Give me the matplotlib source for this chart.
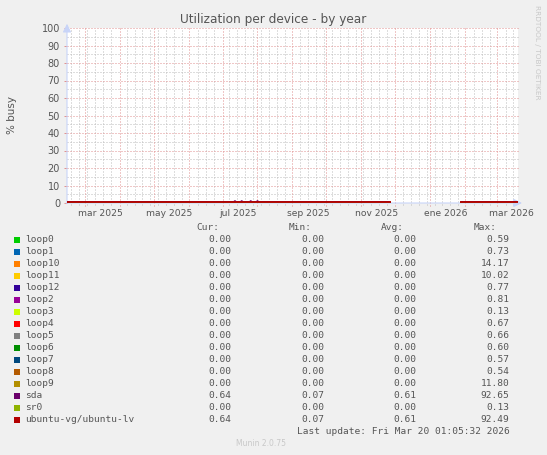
import numpy as np
import pandas as pd
import matplotlib
matplotlib.use("Agg")
import matplotlib.pyplot as plt

# legend / series data
names = ["loop0", "loop1", "loop10", "loop11", "loop12", "loop2", "loop3", "loop4",
         "loop5", "loop6", "loop7", "loop8", "loop9", "sda", "sr0", "ubuntu-vg/ubuntu-lv"]
colors = ["#00CC00", "#0066B3", "#FF8000", "#FFCC00", "#330099", "#990099", "#CCFF00", "#FF0000",
          "#808080", "#008F00", "#00487D", "#B35A00", "#B38F00", "#6B006B", "#8FB300", "#B30000"]
cur = [0.00, 0.00, 0.00, 0.00, 0.00, 0.00, 0.00, 0.00, 0.00, 0.00, 0.00, 0.00, 0.00, 0.64, 0.00, 0.64]
mins = [0.00, 0.00, 0.00, 0.00, 0.00, 0.00, 0.00, 0.00, 0.00, 0.00, 0.00, 0.00, 0.00, 0.07, 0.00, 0.07]
avgs = [0.00, 0.00, 0.00, 0.00, 0.00, 0.00, 0.00, 0.00, 0.00, 0.00, 0.00, 0.00, 0.00, 0.61, 0.00, 0.61]
maxs = [0.59, 0.73, 14.17, 10.02, 0.77, 0.81, 0.13, 0.67, 0.66, 0.60, 0.57, 0.54, 11.80, 92.65, 0.13, 92.49]

# time series as breakpoints (NaN = no data)
t_idle = ["2025-02-13", "2025-11-27", "2025-11-28", "2026-01-28", "2026-03-20"]
v_idle = [0.0, 0.0, np.nan, 0.0, 0.0]
t_disk = ["2025-02-13", "2025-07-11", "2025-07-12", "2025-07-13", "2025-07-17", "2025-07-18",
          "2025-07-19", "2025-07-25", "2025-07-26", "2025-07-27", "2025-07-31", "2025-08-01",
          "2025-08-02", "2025-11-27", "2025-11-28", "2026-01-28", "2026-03-20"]
v_sda = [0.6, 0.6, 1.1, 0.6, 0.6, 1.1, 0.6, 0.6, 1.1, 0.6, 0.6, 1.1, 0.6, 0.6, np.nan, 0.6, 0.6]
v_lv = [0.6, 0.6, 0.6, 0.6, 0.6, 0.6, 0.6, 0.6, 0.6, 0.6, 0.6, 0.6, 0.6, 0.6, np.nan, 0.6, 0.6]

month_labels = ["mar 2025", "may 2025", "jul 2025", "sep 2025", "nov 2025", "ene 2026", "mar 2026"]
label_dates = ["2025-03-15", "2025-05-15", "2025-07-15", "2025-09-15", "2025-11-15", "2026-01-15", "2026-03-14"]

end = pd.Timestamp("2026-03-20 01:05:32")
start = end - pd.Timedelta(days=400)

W, H = 547, 455
bg = "#F0F0F0"
txt = "#555555"
fig = plt.figure(figsize=(W / 100, H / 100), dpi=100, facecolor=bg)
x0, x1, ytop, ybot = 67, 518, 28, 203
ax = fig.add_axes([x0 / W, (H - ybot) / H, (x1 - x0) / W, (ybot - ytop) / H])
ax.set_facecolor("white")
ax.set_xlim(start, end)
ax.set_ylim(0, 100)
for s in ax.spines.values():
    s.set_visible(False)

dot = (0, (1, 2))
minor_c = "#bdbdbd"
major_c = "#e09090"
# grid
months = pd.date_range("2025-03-01", end, freq="MS")
for d in pd.date_range("2025-02-17", end, freq="W-MON"):
    if min(abs((d - m).days) for m in months) > 1:
        ax.axvline(d, color=minor_c, lw=0.72, ls=dot, zorder=1, clip_on=False, ymin=-0.012)
for d in months:
    ax.axvline(d, color=major_c, lw=0.72, ls=dot, zorder=1.5, clip_on=False, ymin=-0.015)
for y in range(5, 100, 10):
    ax.axhline(y, color=minor_c, lw=0.72, ls=dot, zorder=1, xmax=1.005, clip_on=False)
for y in range(10, 101, 10):
    ax.axhline(y, color=major_c, lw=0.72, ls=dot, zorder=1.5, xmax=1.005, clip_on=False)

# axes arrows
axis_c = "#c8d4f8"
ax.annotate("", xy=(1.015, 0), xytext=(-0.008, 0), xycoords="axes fraction",
            arrowprops=dict(arrowstyle="-|>,head_length=0.5,head_width=0.25", color=axis_c, lw=0.8),
            zorder=2, annotation_clip=False)
ax.annotate("", xy=(0, 1.04), xytext=(0, -0.015), xycoords="axes fraction",
            arrowprops=dict(arrowstyle="-|>,head_length=0.5,head_width=0.25", color=axis_c, lw=0.8),
            zorder=2, annotation_clip=False)

# series
t_idle_d = pd.to_datetime(t_idle)
t_disk_d = pd.to_datetime(t_disk)
for n, c in zip(names, colors):
    if n == "sda":
        ax.plot(t_disk_d, v_sda, color=c, lw=1.3, zorder=3, solid_capstyle="butt")
    elif n == "ubuntu-vg/ubuntu-lv":
        ax.plot(t_disk_d, v_lv, color=c, lw=1.3, zorder=3, solid_capstyle="butt")
    else:
        ax.plot(t_idle_d, v_idle, color=c, lw=1.3, zorder=3, solid_capstyle="butt")

# ticks
ax.set_yticks(range(0, 101, 10))
ax.tick_params(axis="y", length=2, width=0.7, color=major_c, labelsize=7, labelcolor=txt, pad=3)
ax.set_xticks(pd.to_datetime(label_dates))
ax.set_xticklabels(month_labels)
ax.tick_params(axis="x", length=0, labelsize=6.6, labelcolor=txt, pad=4)

ax.set_ylabel("% busy", fontsize=7.5, color=txt)
ax.yaxis.set_label_coords(-0.11, 0.5)

fig.text(273 / W, 1 - 19 / H, "Utilization per device - by year", ha="center", va="center",
         fontsize=8.7, color=txt)
fig.text(537 / W, 1 - 5 / H, "RRDTOOL / TOBI OETIKER", rotation=270, ha="center", va="top",
         fontsize=5.3, color="#c8c8c8")

# legend table
mono = "DejaVu Sans Mono"
fs = 6.8
def ty(py):
    return 1 - py / H

for lab, xr in zip(["Cur:", "Min:", "Avg:", "Max:"], [219, 312, 404, 497]):
    fig.text(xr / W, ty(227.5), lab, ha="right", va="center", family=mono, fontsize=fs, color=txt)
for i, n in enumerate(names):
    py = 239.7 + i * 12
    fig.patches.append(plt.Rectangle((13.5 / W, ty(py + 3)), 6 / W, 6 / H, transform=fig.transFigure,
                                     facecolor=colors[i], edgecolor="none"))
    fig.text(25.5 / W, ty(py), n, ha="left", va="center", family=mono, fontsize=fs, color=txt)
    for val, xr in zip([cur[i], mins[i], avgs[i], maxs[i]], [231.7, 324, 416.7, 509.3]):
        fig.text(xr / W, ty(py), "%.2f" % val, ha="right", va="center", family=mono, fontsize=fs, color=txt)
fig.text(509.3 / W, ty(431.5), "Last update: Fri Mar 20 01:05:32 2026", ha="right", va="center",
         family=mono, fontsize=fs, color=txt)
fig.text(260.7 / W, ty(444), "Munin 2.0.75", ha="center", va="center", fontsize=5.5, color="#c8c8c8")

fig.savefig("out.png", dpi=100, facecolor=bg)
